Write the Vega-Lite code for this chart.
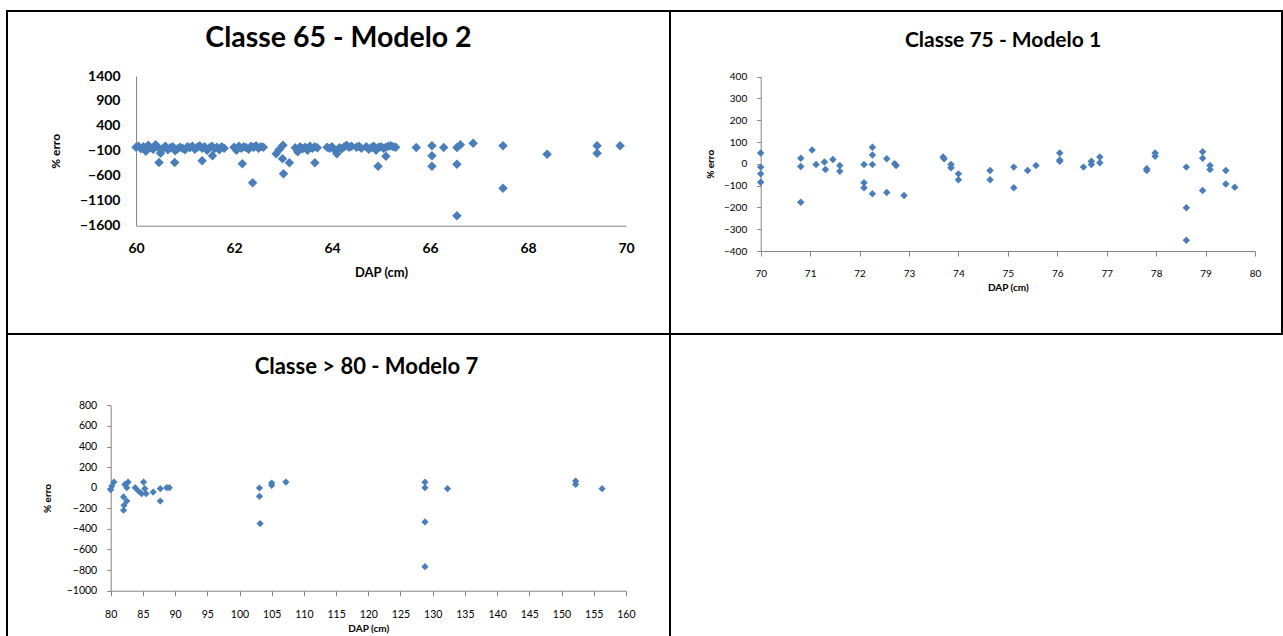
{
  "$schema": "https://vega.github.io/schema/vega-lite/v6.json",
  "padding": {"left": 6, "top": 10, "right": 0, "bottom": 0},
  "config": {
    "view": {"stroke": "black", "strokeWidth": 2},
    "font": "Lato",
    "axis": {"grid": false, "domainColor": "#868686", "tickColor": "#868686", "labelColor": "#000", "titleColor": "#000", "labelFont": "Lato", "titleFont": "Lato", "titleFontWeight": "bold", "labelFlush": false, "format": "d"},
    "title": {"font": "Lato", "color": "#000", "fontWeight": "bold", "anchor": "middle"}
  },
  "datasets": {
    "p65": [
      {"dap": 60.0, "erro": -30}, {"dap": 60.05, "erro": -10}, {"dap": 60.1, "erro": -60}, {"dap": 60.15, "erro": -20}, {"dap": 60.2, "erro": -110}, {"dap": 60.25, "erro": 10}, {"dap": 60.3, "erro": -40}, {"dap": 60.35, "erro": -70}, {"dap": 60.4, "erro": 20}, {"dap": 60.45, "erro": -30}, {"dap": 60.5, "erro": -150}, {"dap": 60.55, "erro": -50}, {"dap": 60.6, "erro": -10}, {"dap": 60.65, "erro": -80}, {"dap": 60.7, "erro": -40}, {"dap": 60.75, "erro": -20}, {"dap": 60.8, "erro": -100}, {"dap": 60.85, "erro": -60}, {"dap": 60.9, "erro": -30}, {"dap": 60.95, "erro": -50}, {"dap": 61.0, "erro": -80}, {"dap": 61.05, "erro": -20}, {"dap": 61.1, "erro": -40}, {"dap": 61.15, "erro": -10}, {"dap": 61.2, "erro": -70}, {"dap": 61.25, "erro": -30}, {"dap": 61.3, "erro": 0}, {"dap": 61.35, "erro": -50}, {"dap": 61.4, "erro": -20}, {"dap": 61.45, "erro": -90}, {"dap": 61.5, "erro": -40}, {"dap": 61.55, "erro": -10}, {"dap": 61.6, "erro": -60}, {"dap": 61.65, "erro": -30}, {"dap": 61.7, "erro": -80}, {"dap": 61.75, "erro": -20}, {"dap": 61.8, "erro": -50},
      {"dap": 60.47, "erro": -334}, {"dap": 60.79, "erro": -334}, {"dap": 61.35, "erro": -300}, {"dap": 61.56, "erro": -200},
      {"dap": 62.0, "erro": -30}, {"dap": 62.05, "erro": -90}, {"dap": 62.1, "erro": -10}, {"dap": 62.15, "erro": -50}, {"dap": 62.2, "erro": -20}, {"dap": 62.25, "erro": -40}, {"dap": 62.3, "erro": -70}, {"dap": 62.35, "erro": -10}, {"dap": 62.4, "erro": -30}, {"dap": 62.45, "erro": 0}, {"dap": 62.5, "erro": -50}, {"dap": 62.55, "erro": -20}, {"dap": 62.6, "erro": -30},
      {"dap": 62.17, "erro": -360}, {"dap": 62.38, "erro": -740},
      {"dap": 62.86, "erro": -160}, {"dap": 62.92, "erro": -80}, {"dap": 63.0, "erro": 10}, {"dap": 62.99, "erro": -260}, {"dap": 63.13, "erro": -340}, {"dap": 63.01, "erro": -560},
      {"dap": 63.25, "erro": -40}, {"dap": 63.3, "erro": -120}, {"dap": 63.35, "erro": -20}, {"dap": 63.4, "erro": -60}, {"dap": 63.45, "erro": -30}, {"dap": 63.5, "erro": -90}, {"dap": 63.55, "erro": -10}, {"dap": 63.6, "erro": -50}, {"dap": 63.65, "erro": -20}, {"dap": 63.7, "erro": -40}, {"dap": 63.65, "erro": -340},
      {"dap": 63.9, "erro": -30}, {"dap": 63.95, "erro": -50}, {"dap": 64.0, "erro": -20}, {"dap": 64.05, "erro": -80}, {"dap": 64.1, "erro": -160}, {"dap": 64.15, "erro": -40}, {"dap": 64.2, "erro": -60}, {"dap": 64.25, "erro": -20}, {"dap": 64.3, "erro": 10}, {"dap": 64.35, "erro": -30}, {"dap": 64.4, "erro": -10},
      {"dap": 64.5, "erro": -30}, {"dap": 64.55, "erro": -10}, {"dap": 64.6, "erro": -50}, {"dap": 64.7, "erro": -20}, {"dap": 64.75, "erro": -70}, {"dap": 64.8, "erro": -40}, {"dap": 64.85, "erro": -10}, {"dap": 64.9, "erro": -90}, {"dap": 64.95, "erro": -30}, {"dap": 65.0, "erro": -20}, {"dap": 65.05, "erro": -50}, {"dap": 65.1, "erro": -30}, {"dap": 65.15, "erro": -10}, {"dap": 65.2, "erro": 0}, {"dap": 65.25, "erro": -20}, {"dap": 65.3, "erro": -30}, {"dap": 64.94, "erro": -410}, {"dap": 65.1, "erro": -210},
      {"dap": 65.72, "erro": -35}, {"dap": 66.04, "erro": 0}, {"dap": 66.04, "erro": -200}, {"dap": 66.04, "erro": -410}, {"dap": 66.28, "erro": -35}, {"dap": 66.55, "erro": -35}, {"dap": 66.62, "erro": 20}, {"dap": 66.55, "erro": -370}, {"dap": 66.55, "erro": -1400}, {"dap": 66.88, "erro": 50}, {"dap": 67.49, "erro": 0}, {"dap": 67.49, "erro": -850}, {"dap": 68.39, "erro": -170}, {"dap": 69.41, "erro": 0}, {"dap": 69.41, "erro": -150}, {"dap": 69.88, "erro": 0}
    ],
    "p75": [
      {"dap": 70.0, "erro": 50}, {"dap": 70.0, "erro": -15}, {"dap": 70.0, "erro": -46}, {"dap": 70.0, "erro": -84},
      {"dap": 70.81, "erro": 26}, {"dap": 70.81, "erro": -12}, {"dap": 70.81, "erro": -176},
      {"dap": 71.04, "erro": 64}, {"dap": 71.12, "erro": -3}, {"dap": 71.29, "erro": 8}, {"dap": 71.31, "erro": -26}, {"dap": 71.46, "erro": 20}, {"dap": 71.6, "erro": -8}, {"dap": 71.6, "erro": -34},
      {"dap": 72.09, "erro": -3}, {"dap": 72.09, "erro": -87}, {"dap": 72.09, "erro": -110},
      {"dap": 72.26, "erro": 76}, {"dap": 72.26, "erro": 41}, {"dap": 72.26, "erro": -3}, {"dap": 72.26, "erro": -137},
      {"dap": 72.55, "erro": 23}, {"dap": 72.55, "erro": -131}, {"dap": 72.71, "erro": 0}, {"dap": 72.74, "erro": -8}, {"dap": 72.9, "erro": -145},
      {"dap": 73.69, "erro": 31}, {"dap": 73.71, "erro": 23}, {"dap": 73.85, "erro": -3}, {"dap": 73.85, "erro": -18}, {"dap": 74.0, "erro": -46}, {"dap": 74.0, "erro": -73},
      {"dap": 74.64, "erro": -31}, {"dap": 74.64, "erro": -73}, {"dap": 75.12, "erro": -15}, {"dap": 75.12, "erro": -110},
      {"dap": 75.4, "erro": -31}, {"dap": 75.57, "erro": -8}, {"dap": 76.05, "erro": 50}, {"dap": 76.05, "erro": 12}, {"dap": 76.05, "erro": 18},
      {"dap": 76.53, "erro": -15}, {"dap": 76.69, "erro": 12}, {"dap": 76.69, "erro": -3}, {"dap": 76.86, "erro": 31}, {"dap": 76.86, "erro": 5},
      {"dap": 77.81, "erro": -23}, {"dap": 77.81, "erro": -31}, {"dap": 77.98, "erro": 50}, {"dap": 77.98, "erro": 35},
      {"dap": 78.61, "erro": -15}, {"dap": 78.61, "erro": -202}, {"dap": 78.61, "erro": -351},
      {"dap": 78.94, "erro": 56}, {"dap": 78.94, "erro": 26}, {"dap": 78.94, "erro": -122},
      {"dap": 79.09, "erro": -8}, {"dap": 79.09, "erro": -26}, {"dap": 79.41, "erro": -31}, {"dap": 79.41, "erro": -92}, {"dap": 79.59, "erro": -107}
    ],
    "p80": [
      {"dap": 80.0, "erro": -20}, {"dap": 80.15, "erro": 13}, {"dap": 80.5, "erro": 55},
      {"dap": 82.0, "erro": -90}, {"dap": 82.07, "erro": -171}, {"dap": 82.0, "erro": -219}, {"dap": 82.5, "erro": -129}, {"dap": 82.2, "erro": 32}, {"dap": 82.7, "erro": 55}, {"dap": 82.5, "erro": 0},
      {"dap": 83.8, "erro": 0}, {"dap": 84.3, "erro": -32}, {"dap": 85.1, "erro": 55}, {"dap": 85.3, "erro": -10}, {"dap": 84.8, "erro": -58}, {"dap": 85.5, "erro": -58},
      {"dap": 86.6, "erro": -42}, {"dap": 87.7, "erro": -10}, {"dap": 87.7, "erro": -129}, {"dap": 88.7, "erro": 0}, {"dap": 89.1, "erro": 0},
      {"dap": 103.1, "erro": -3}, {"dap": 103.1, "erro": -84}, {"dap": 103.2, "erro": -348}, {"dap": 105.0, "erro": 45}, {"dap": 105.0, "erro": 23}, {"dap": 107.2, "erro": 55},
      {"dap": 128.8, "erro": 54}, {"dap": 128.8, "erro": 0}, {"dap": 128.8, "erro": -332}, {"dap": 128.8, "erro": -767}, {"dap": 132.3, "erro": -10},
      {"dap": 152.2, "erro": 64}, {"dap": 152.2, "erro": 32}, {"dap": 156.3, "erro": -10}
    ]
  },
  "columns": 2,
  "spacing": 0,
  "bounds": "flush",
  "concat": [
    {
      "width": 663, "height": 323,
      "title": {"text": "Classe 65 - Modelo 2", "fontSize": 28.5, "offset": -41},
      "data": {"name": "p65"},
      "mark": {"type": "point", "shape": "diamond", "filled": true, "size": 90, "color": "#4A7EBB", "opacity": 1},
      "encoding": {
        "x": {"field": "dap", "type": "quantitative",
              "scale": {"domain": [60, 70], "range": [129, 619], "nice": false, "zero": false},
              "axis": {"title": "DAP (cm)", "values": [60, 62, 64, 66, 68, 70], "ticks": false, "offset": -108.3, "labelFontSize": 14, "labelFontWeight": "bold", "labelPadding": 16, "titleFontSize": 13, "titlePadding": 11}},
        "y": {"field": "erro", "type": "quantitative",
              "scale": {"domain": [-1600, 1400], "range": [214.7, 65], "nice": false, "zero": false},
              "axis": {"title": "% erro", "values": [-1600, -1100, -600, -100, 400, 900, 1400], "ticks": false, "offset": -129, "labelFontSize": 14, "labelFontWeight": "bold", "labelPadding": 16, "titleFontSize": 12, "titlePadding": 17}}
      }
    },
    {
      "width": 612, "height": 323,
      "title": {"text": "Classe 75 - Modelo 1", "fontSize": 21, "offset": -40, "dx": 27},
      "data": {"name": "p75"},
      "mark": {"type": "point", "shape": "diamond", "filled": true, "size": 56, "color": "#4A7EBB", "opacity": 1},
      "encoding": {
        "x": {"field": "dap", "type": "quantitative",
              "scale": {"domain": [70, 80], "range": [90.7, 585], "nice": false, "zero": false},
              "axis": {"title": "DAP (cm)", "values": [70, 71, 72, 73, 74, 75, 76, 77, 78, 79, 80], "tickSize": 5, "offset": -83, "labelFontSize": 10, "labelPadding": 12, "titleFontSize": 10, "titlePadding": 4}},
        "y": {"field": "erro", "type": "quantitative",
              "scale": {"domain": [-400, 400], "range": [240, 65.7], "nice": false, "zero": false},
              "axis": {"title": "% erro", "values": [-400, -300, -200, -100, 0, 100, 200, 300, 400], "tickSize": 4, "offset": -90.7, "labelFontSize": 10, "labelPadding": 10, "titleFontSize": 10, "titlePadding": 8}}
      }
    },
    {
      "width": 663, "height": 305,
      "title": {"text": "Classe > 80 - Modelo 7", "fontSize": 22, "offset": -45, "dx": 28},
      "data": {"name": "p80"},
      "mark": {"type": "point", "shape": "diamond", "filled": true, "size": 52, "color": "#4A7EBB", "opacity": 1},
      "encoding": {
        "x": {"field": "dap", "type": "quantitative",
              "scale": {"domain": [80, 160], "range": [103.7, 618.9], "nice": false, "zero": false},
              "axis": {"title": "DAP (cm)", "values": [80, 85, 90, 95, 100, 105, 110, 115, 120, 125, 130, 135, 140, 145, 150, 155, 160], "tickSize": 5, "offset": -48.3, "labelFontSize": 10.5, "labelPadding": 14, "titleFontSize": 10, "titlePadding": 3}},
        "y": {"field": "erro", "type": "quantitative",
              "scale": {"domain": [-1000, 800], "range": [256.7, 71.3], "nice": false, "zero": false},
              "axis": {"title": "% erro", "values": [-1000, -800, -600, -400, -200, 0, 200, 400, 600, 800], "tickSize": 4, "offset": -103.7, "labelFontSize": 10.5, "labelPadding": 10, "titleFontSize": 10, "titlePadding": 14}}
      }
    },
    {
      "width": 612, "height": 305,
      "data": {"values": []},
      "mark": "point",
      "encoding": {}
    }
  ]
}
